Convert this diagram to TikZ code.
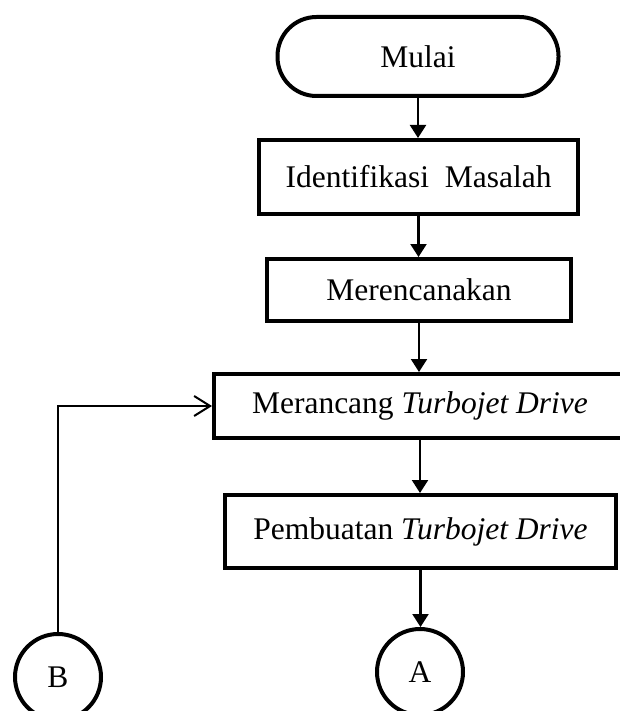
\documentclass[tikz,border=0pt]{standalone}
\usepackage{fontspec}
\setmainfont{Liberation Serif}
\usetikzlibrary{arrows.meta}
\begin{document}
\begin{tikzpicture}[x=1pt,y=-1pt,
  every node/.style={font=\fontsize{31.5}{36}\selectfont, inner sep=0pt},
  box/.style={draw, line width=4pt, rectangle},
  term/.style={draw, line width=4pt, rectangle, rounded corners=39pt, minimum width=281pt, minimum height=79pt},
  circ/.style={draw, line width=4pt, circle, minimum size=86pt},
  arr/.style={line width=2.2pt, -{Triangle[length=13pt,width=16pt]}},
  openarr/.style={line width=2pt, -{Straight Barb[length=16pt,width=20pt]}}]
\useasboundingbox (0,0) rectangle (620,711);
\clip (0,0) rectangle (620,711);
\node[term] (mulai) at (418,56.5) {Mulai};
\node[box, minimum width=319pt, minimum height=74pt] (ident) at (418.5,177) {Identifikasi\ \ Masalah};
\node[box, minimum width=304pt, minimum height=62pt] (renc) at (419,290) {Merencanakan};
\node[box, minimum width=412pt, minimum height=64pt] (ranc) at (420,406) {Merancang \textit{Turbojet Drive}};
\node[box, minimum width=391pt, minimum height=73pt] (buat) at (420.5,531.5) {Pembuatan \textit{Turbojet Drive}};
\node[circ] (A) at (420,672) {A};
\node[circ] (B) at (58,677) {B};
\draw[arr] (mulai.south) -- (mulai.south |- ident.north);
\draw[arr] (ident.south) -- (ident.south |- renc.north);
\draw[arr] (renc.south) -- (renc.south |- ranc.north);
\draw[arr] (ranc.south) -- (ranc.south |- buat.north);
\draw[arr] (buat.south) -- (buat.south |- A.north);
\draw[openarr] (B.north) |- (ranc.west);
\end{tikzpicture}
\end{document}
